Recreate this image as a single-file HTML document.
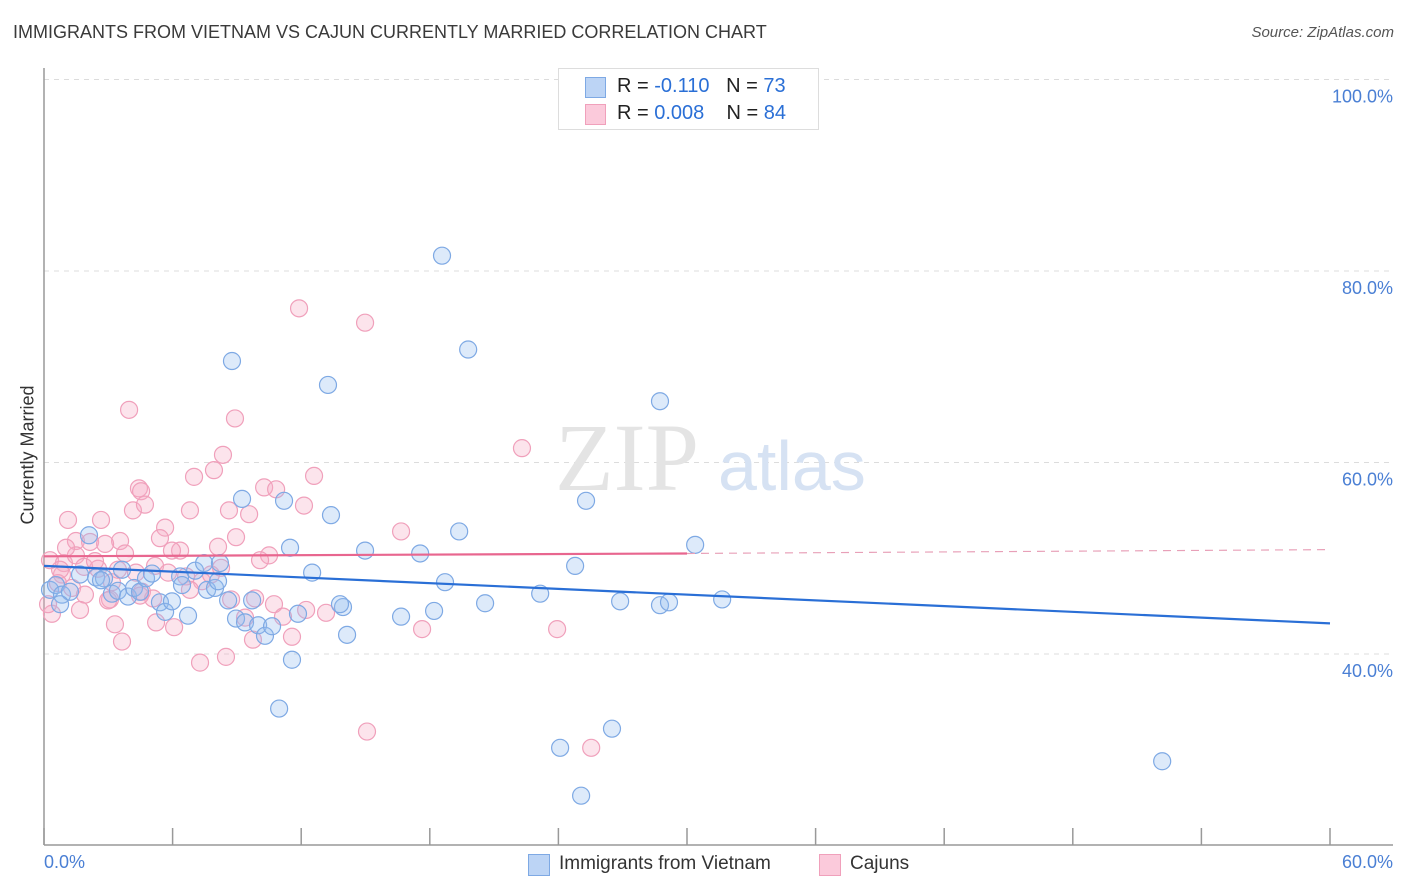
<!DOCTYPE html>
<html><head><meta charset="utf-8"><style>
body{margin:0;background:#fff;font-family:"Liberation Sans",sans-serif;}
#wrap{position:relative;width:1406px;height:892px;overflow:hidden;}
.t{position:absolute;white-space:nowrap;}
</style></head><body>
<div id="wrap">
<div class="t" style="left:13px;top:22px;font-size:18px;color:#3a3a3a;">IMMIGRANTS FROM VIETNAM VS CAJUN CURRENTLY MARRIED CORRELATION CHART</div>
<div class="t" style="right:12px;top:24px;font-size:15px;color:#555;font-style:italic;">Source: ZipAtlas.com</div>
<svg id="svg" width="1406" height="892" style="position:absolute;left:0;top:0"></svg>
</div>
<script>
const blueX=[18.57,19.79,8.77,13.25,28.74,9.24,11.2,13.39,25.29,19.37,2.1,11.48,14.98,17.55,30.38,24.78,12.51,18.71,23.15,26.88,28.74,29.16,31.64,20.58,18.2,16.66,13.95,13.81,14.14,11.57,10.97,24.08,26.5,25.06,52.17,0.28,0.56,0.84,1.21,1.68,2.43,2.8,3.17,3.45,3.64,3.92,4.2,4.48,4.76,5.04,5.41,5.65,5.97,6.35,6.44,6.72,7.05,7.47,7.61,7.98,8.12,8.21,8.59,8.96,9.38,9.71,9.99,10.31,10.64,11.85,2.66,0.75];
const blueY=[81.6,71.8,70.6,68.1,66.4,56.2,56.0,54.5,56.0,52.8,52.4,51.1,50.8,50.5,51.4,49.2,48.5,47.5,46.3,45.5,45.1,45.4,45.7,45.3,44.5,43.9,44.9,45.2,42.0,39.4,34.3,30.2,32.2,25.2,28.8,46.7,47.2,46.2,46.5,48.3,48.0,47.9,46.3,46.6,48.8,46.0,46.9,46.5,47.9,48.4,45.4,44.4,45.5,48.1,47.2,44.0,48.7,49.5,46.7,46.9,47.6,49.5,45.6,43.7,43.3,45.6,43.0,41.9,42.9,44.2,47.7,45.2];
const pinkX=[11.9,14.98,3.97,8.91,22.3,8.35,7.93,7.0,12.6,10.27,10.83,4.43,4.53,4.15,4.71,6.81,9.57,8.63,12.13,2.66,5.65,8.96,16.66,3.55,1.49,2.15,2.85,3.78,6.35,5.97,5.41,10.5,8.12,0.28,0.93,1.49,2.52,3.17,3.45,4.29,5.18,5.79,6.63,7.37,7.79,8.26,1.87,2.38,0.84,0.65,1.31,1.91,3.08,4.57,5.09,8.73,9.85,10.73,12.23,13.16,11.15,9.38,3.31,5.23,6.07,0.37,1.68,0.19,17.64,23.94,11.57,9.75,3.64,7.28,8.49,15.07,25.53,4.48,6.81,10.08,0.75,1.03,2.99,1.12];
const pinkY=[76.1,74.6,65.5,64.6,61.5,60.8,59.2,58.5,58.6,57.4,57.2,57.3,57.0,55.0,55.6,55.0,54.6,55.0,55.5,54.0,53.2,52.2,52.8,51.8,51.8,51.7,51.5,50.5,50.8,50.8,52.1,50.3,51.2,49.8,49.5,50.3,48.9,47.5,48.8,48.5,49.2,48.5,48.1,47.6,48.3,49.0,49.1,49.7,48.3,47.4,46.9,46.2,45.7,46.5,45.8,45.7,45.8,45.2,44.6,44.3,43.9,43.8,43.1,43.3,42.8,44.2,44.6,45.2,42.6,42.6,41.8,41.5,41.3,39.1,39.7,31.9,30.2,46.1,46.7,49.8,48.8,51.1,45.6,54.0];
const blueTrend=[49.2,43.2];
const pinkTrend=[50.2,50.5,50.9];
const yTicks=[100,80,60,40];
const yTickLabels=["100.0%","80.0%","60.0%","40.0%"];

const X0=44,X1=1330,PY0=1037,PPY=9.575;
const sx=v=>X0+(v/60)*(X1-X0);
const sy=v=>PY0-v*PPY;
const svg=document.getElementById('svg');
const NS='http://www.w3.org/2000/svg';
function mk(tag,attrs,parent){const e=document.createElementNS(NS,tag);for(const k in attrs)e.setAttribute(k,attrs[k]);(parent||svg).appendChild(e);return e;}

// gridlines
yTicks.forEach((v,i)=>{
  const g=mk('line',{x1:44,x2:1393,y1:sy(v),y2:sy(v),stroke:'#dcdcdc','stroke-dasharray':'5,5'});
  
  
  const t=mk('text',{x:1393,y:sy(v)+23,'text-anchor':'end','font-size':18,fill:'#4a7fd4','font-family':'Liberation Sans, sans-serif'});
  t.textContent=yTickLabels[i];
  
  
});
// axes
const ya=mk('line',{x1:44,x2:44,y1:68,y2:845,stroke:'#999','stroke-width':1.5});


const xa=mk('line',{x1:44,x2:1393,y1:845,y2:845,stroke:'#999','stroke-width':1.5});


for(let i=0;i<=10;i++){
  const tk=mk('line',{x1:sx(i*6),x2:sx(i*6),y1:828,y2:845,stroke:'#999','stroke-width':1.5});
  
  
}
// watermark
const wm=mk('text',{x:555,y:490,'font-size':96,fill:'#e4e4e4','font-family':'Liberation Serif, serif'});
wm.textContent='ZIP';


const wm2=mk('text',{x:718,y:490,'font-size':70,fill:'#d6e2f3','font-family':'Liberation Sans, sans-serif'});
wm2.textContent='atlas';



// points
pinkX.forEach((x,i)=>{
  const c=mk('circle',{cx:sx(x),cy:sy(pinkY[i]),r:8.5,fill:'rgba(247,170,196,0.32)',stroke:'#f0a0bb','stroke-width':1.2});
  
  
});
blueX.forEach((x,i)=>{
  const c=mk('circle',{cx:sx(x),cy:sy(blueY[i]),r:8.5,fill:'rgba(150,190,240,0.32)',stroke:'#7ea9e4','stroke-width':1.2});
  
  
});
// trend lines
const bl=mk('line',{x1:sx(0),y1:sy(blueTrend[0]),x2:sx(60),y2:sy(blueTrend[1]),stroke:'#2a6fd6','stroke-width':2.2});


const pl=mk('line',{x1:sx(0),y1:sy(pinkTrend[0]),x2:sx(30),y2:sy(pinkTrend[1]),stroke:'#e8668f','stroke-width':2.2});


const pd=mk('line',{x1:sx(30),y1:sy(pinkTrend[1]),x2:sx(60),y2:sy(pinkTrend[2]),stroke:'#e8a0b8','stroke-width':1.2,'stroke-dasharray':'8,6'});


</script>
<div class="t" style="left:28px;top:455px;font-size:18px;color:#333;transform:translate(-50%,-50%) rotate(-90deg);">Currently Married</div>
<div class="t" style="left:44px;top:852px;font-size:18px;color:#4a7fd4;">0.0%</div>
<div class="t" style="right:13px;top:852px;font-size:18px;color:#4a7fd4;">60.0%</div>
<div style="position:absolute;left:558px;top:68px;width:259px;height:60px;border:1px solid #ddd;background:#fff;font-size:20px;">
  <div style="position:absolute;left:26px;top:8px;width:19px;height:19px;background:#bcd4f5;border:1px solid #7ea9e4;"></div>
  <div class="t" style="left:58px;top:6px;color:#222;">R = <span style="color:#2a6fd6">-0.110</span>&nbsp;&nbsp;&nbsp;N = <span style="color:#2a6fd6">73</span></div>
  <div style="position:absolute;left:26px;top:35px;width:19px;height:19px;background:#fbcadb;border:1px solid #f0a0bb;"></div>
  <div class="t" style="left:58px;top:33px;color:#222;">R = <span style="color:#2a6fd6">0.008</span>&nbsp;&nbsp;&nbsp;&nbsp;N = <span style="color:#2a6fd6">84</span></div>
</div>
<div style="position:absolute;left:528px;top:853px;font-size:19px;color:#333;">
  <div style="position:absolute;left:0;top:1px;width:20px;height:20px;background:#bcd4f5;border:1px solid #7ea9e4;"></div>
  <span class="t" style="left:31px;top:0;">Immigrants from Vietnam</span>
</div>
<div style="position:absolute;left:819px;top:853px;font-size:19px;color:#333;">
  <div style="position:absolute;left:0;top:1px;width:20px;height:20px;background:#fbcadb;border:1px solid #f0a0bb;"></div>
  <span class="t" style="left:31px;top:0;">Cajuns</span>
</div>
</body></html>
